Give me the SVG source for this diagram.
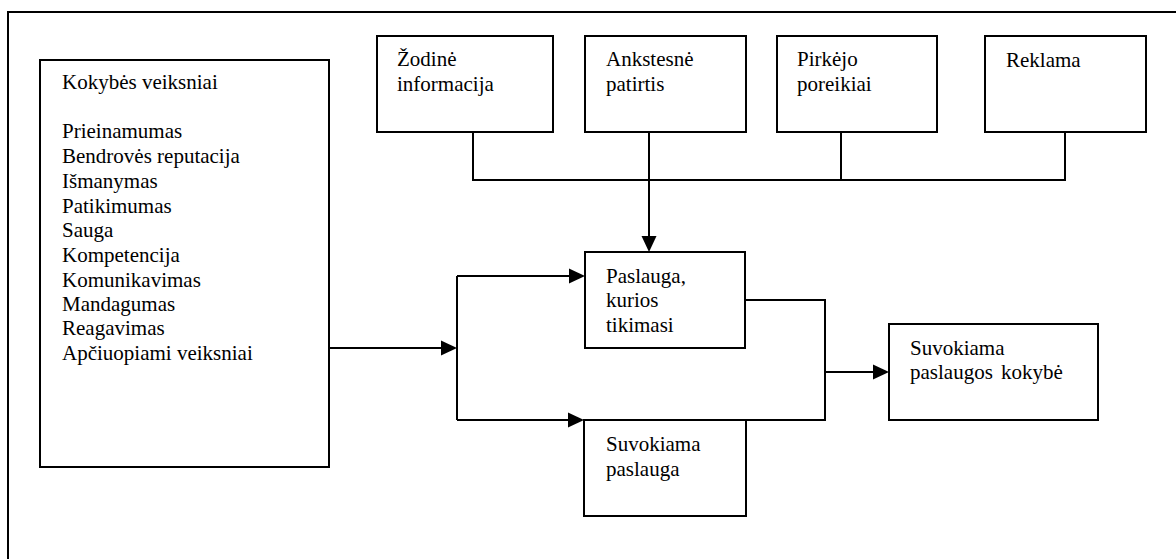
<svg xmlns="http://www.w3.org/2000/svg" width="1176" height="559" viewBox="0 0 1176 559">
  <style>
    .box { fill: #ffffff; stroke: #000000; stroke-width: 2; }
    .frame { fill: none; stroke: #000000; stroke-width: 2; }
    .wire { fill: none; stroke: #000000; stroke-width: 2; }
    .arrow { marker-end: url(#head); }
    .lbl { font-family: 'Liberation Serif', 'Times New Roman', serif; font-size: 21px; fill: #000000; }
  </style>
  <defs>
    <marker id="head" viewBox="0 0 16 16" refX="12" refY="8" markerWidth="16" markerHeight="16" markerUnits="userSpaceOnUse" orient="auto">
      <path d="M0,0.5 L16,8 L0,15.5 Z" fill="#000000"/>
    </marker>
  </defs>

  <rect width="1176" height="559" fill="#ffffff"/>

  <!-- outer frame, running off the right and bottom edges -->
  <rect class="frame" x="8" y="12" width="1200" height="600"/>

  <g id="connectors">
    <!-- collecting bus under the four top boxes -->
    <path class="wire" d="M473,132 V180 H1065 V132"/>
    <path class="wire" d="M841,132 V180"/>
    <path class="wire" d="M649,132 V180"/>
    <path class="wire arrow" d="M649,180 V248"/>
    <!-- quality factors into the split -->
    <path class="wire arrow" d="M329,348 H453"/>
    <path class="wire" d="M457,276 V420"/>
    <path class="wire arrow" d="M457,276 H581"/>
    <path class="wire arrow" d="M457,420 H580"/>
    <!-- expected and perceived service merge -->
    <path class="wire" d="M745,300 H825 V420 H746"/>
    <path class="wire arrow" d="M825,372 H885"/>
  </g>

  <g class="lbl">
    <g id="factors">
      <rect class="box" x="40" y="60" width="289" height="407"/>
      <text x="62" y="89">Kokybės veiksniai</text>
      <text x="62" y="138">Prieinamumas</text>
      <text x="62" y="163">Bendrovės reputacija</text>
      <text x="62" y="188">Išmanymas</text>
      <text x="62" y="213">Patikimumas</text>
      <text x="62" y="237">Sauga</text>
      <text x="62" y="262">Kompetencija</text>
      <text x="62" y="287">Komunikavimas</text>
      <text x="62" y="311">Mandagumas</text>
      <text x="62" y="335">Reagavimas</text>
      <text x="62" y="360">Apčiuopiami veiksniai</text>
    </g>

    <g id="word-of-mouth">
      <rect class="box" x="377" y="36" width="176" height="96"/>
      <text x="397" y="66">Žodinė</text>
      <text x="397" y="91">informacija</text>
    </g>

    <g id="past-experience">
      <rect class="box" x="585" y="36" width="161" height="96"/>
      <text x="606" y="66">Ankstesnė</text>
      <text x="606" y="91">patirtis</text>
    </g>

    <g id="customer-needs">
      <rect class="box" x="777" y="36" width="160" height="96"/>
      <text x="797" y="66">Pirkėjo</text>
      <text x="797" y="91">poreikiai</text>
    </g>

    <g id="advertising">
      <rect class="box" x="985" y="36" width="161" height="96"/>
      <text x="1006" y="67">Reklama</text>
    </g>

    <g id="expected-service">
      <rect class="box" x="585" y="252" width="160" height="96"/>
      <text x="606" y="283">Paslauga,</text>
      <text x="606" y="307">kurios</text>
      <text x="606" y="332">tikimasi</text>
    </g>

    <g id="perceived-service">
      <rect class="box" x="584" y="420" width="162" height="96"/>
      <text x="606" y="451">Suvokiama</text>
      <text x="606" y="476">paslauga</text>
    </g>

    <g id="perceived-quality">
      <rect class="box" x="889" y="324" width="209" height="96"/>
      <text x="910" y="355">Suvokiama</text>
      <text x="910" y="379" word-spacing="3">paslaugos kokybė</text>
    </g>
  </g>
</svg>
